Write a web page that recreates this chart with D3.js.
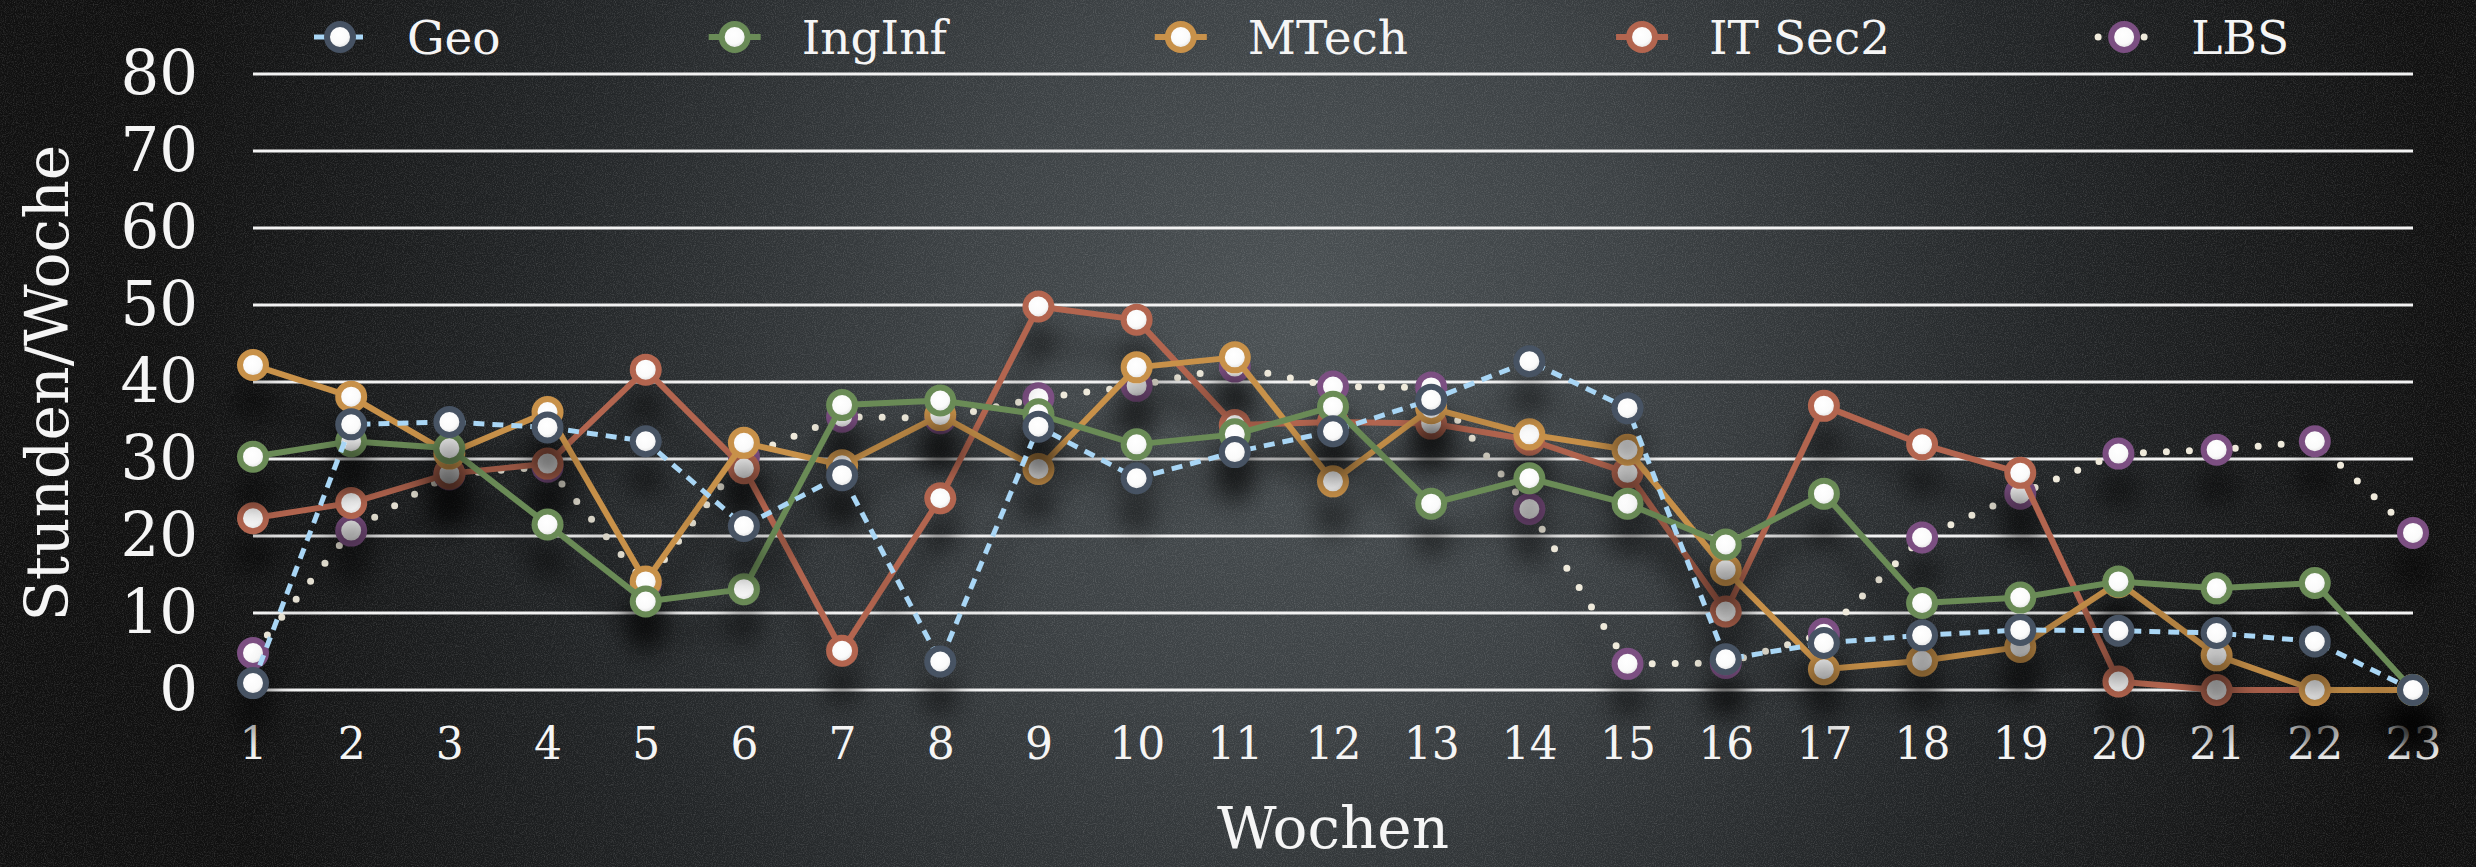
<!DOCTYPE html>
<html>
<head>
<meta charset="utf-8">
<script src="https://cdn.jsdelivr.net/npm/d3@7"></script>
<style>
html, body { margin: 0; padding: 0; background: #111; }
svg { display: block; }
text { font-family: "DejaVu Serif", serif; fill: #f5f5f5; }
</style>
</head>
<body>
<svg id="chart" width="2476" height="867"></svg>
<script>
// weeks on the x axis
var weeks = [1, 2, 3, 4, 5, 6, 7, 8, 9, 10, 11, 12, 13, 14, 15, 16, 17, 18, 19, 20, 21, 22, 23];
var yTicks = [0, 10, 20, 30, 40, 50, 60, 70, 80];

// hours per week
var geo    = [0.9, 34.5, 34.8, 34.1, 32.3, 21.3, 27.9, 3.7, 34.2, 27.5, 30.9, 33.6, 37.7, 42.7, 36.6, 4.0, 6.1, 7.1, 7.8, 7.7, 7.4, 6.3, 0];
var ingInf = [30.3, 32.3, 31.4, 21.5, 11.5, 13.1, 37.0, 37.6, 35.8, 31.9, 33.2, 36.8, 24.2, 27.5, 24.2, 18.9, 25.5, 11.3, 12.0, 14.1, 13.2, 13.9, 0];
var mTech  = [42.2, 38.1, 30.7, 36.1, 14.1, 32.1, 29.2, 35.7, 28.7, 41.9, 43.2, 27.1, 36.6, 33.2, 31.2, 15.6, 2.7, 3.8, 5.6, 14.0, 4.5, 0, 0];
var itSec2 = [22.3, 24.3, 28.1, 29.4, 41.6, 28.8, 5.1, 24.9, 49.8, 48.1, 34.4, 34.8, 34.6, 32.5, 28.2, 10.2, 36.9, 31.9, 28.2, 1.1, 0, 0, 0];
var lbs    = [4.8, 20.7, 28.0, 29.0, 13.8, 30.3, 35.5, 35.3, 37.9, 39.5, 42.0, 39.4, 39.3, 23.5, 3.4, 3.5, 7.3, 19.8, 25.5, 30.7, 31.2, 32.3, 20.4];

// legend order
var series = [
  { name: "Geo",     values: geo,    ring: "#465263", line: "#a9d6f5", dash: "11 8", width: 5, cap: "butt" },
  { name: "IngInf",  values: ingInf, ring: "#6a8b57", line: "#6a8b57", dash: null,   width: 6, cap: "butt" },
  { name: "MTech",   values: mTech,  ring: "#c8914a", line: "#c8914a", dash: null,   width: 6, cap: "butt" },
  { name: "IT Sec2", values: itSec2, ring: "#b3654f", line: "#b3654f", dash: null,   width: 6, cap: "butt" },
  { name: "LBS",     values: lbs,    ring: "#7b4f82", line: "#efeadb", dash: "0 23", width: 7, cap: "round" }
];
// drawn bottom to top
var drawOrder = ["LBS", "IT Sec2", "MTech", "IngInf", "Geo"];

var svg = d3.select("#chart");
var W = 2476, H = 867;

var x = d3.scaleLinear().domain([1, 23]).range([253, 2413]);
var y = d3.scaleLinear().domain([0, 80]).range([690, 74]);

var defs = svg.append("defs");

// background light
var bg = defs.append("radialGradient")
  .attr("id", "bg")
  .attr("gradientUnits", "userSpaceOnUse")
  .attr("cx", 1300).attr("cy", 330).attr("r", 1150)
  .attr("gradientTransform", "translate(1300,330) scale(1,1.1) translate(-1300,-330)");
bg.append("stop").attr("offset", "0").attr("stop-color", "#4b5154");
bg.append("stop").attr("offset", "0.3").attr("stop-color", "#3c4144");
bg.append("stop").attr("offset", "0.65").attr("stop-color", "#222527");
bg.append("stop").attr("offset", "1").attr("stop-color", "#101010");

// grainy texture
var noise = defs.append("filter").attr("id", "noise")
  .attr("x", 0).attr("y", 0).attr("width", "100%").attr("height", "100%");
noise.append("feTurbulence").attr("type", "fractalNoise")
  .attr("baseFrequency", "0.9").attr("numOctaves", 2).attr("seed", 4);
noise.append("feColorMatrix").attr("type", "matrix")
  .attr("values", "0 0 0 0 1  0 0 0 0 1  0 0 0 0 1  0 0 0 0.9 -0.38");

// drop shadow under each series
var shadow = defs.append("filter").attr("id", "shadow")
  .attr("x", "-5%").attr("y", "-30%").attr("width", "110%").attr("height", "180%");
shadow.append("feGaussianBlur").attr("in", "SourceAlpha").attr("stdDeviation", 13).attr("result", "blur");
shadow.append("feOffset").attr("in", "blur").attr("dx", 0).attr("dy", 36).attr("result", "off");
shadow.append("feComponentTransfer").attr("in", "off").attr("result", "soft")
  .append("feFuncA").attr("type", "linear").attr("slope", 0.6);
var merge = shadow.append("feMerge");
merge.append("feMergeNode").attr("in", "soft");
merge.append("feMergeNode").attr("in", "SourceGraphic");

// marker fill
var dot = defs.append("radialGradient").attr("id", "dotFill")
  .attr("cx", "45%").attr("cy", "40%").attr("r", "60%");
dot.append("stop").attr("offset", "0").attr("stop-color", "#ffffff");
dot.append("stop").attr("offset", "0.6").attr("stop-color", "#fafafa");
dot.append("stop").attr("offset", "1").attr("stop-color", "#d8d8d8");

// x labels fade at the right end
var xFade = defs.append("linearGradient").attr("id", "xFade")
  .attr("gradientUnits", "userSpaceOnUse")
  .attr("x1", 253).attr("x2", 2440).attr("y1", 0).attr("y2", 0);
xFade.append("stop").attr("offset", "0").attr("stop-color", "#f5f5f5");
xFade.append("stop").attr("offset", "0.78").attr("stop-color", "#f0f0f0");
xFade.append("stop").attr("offset", "1").attr("stop-color", "#8e8e8e");

svg.append("rect").attr("width", W).attr("height", H).attr("fill", "url(#bg)");
svg.append("rect").attr("width", W).attr("height", H).attr("filter", "url(#noise)").attr("opacity", 0.35);

// gridlines
svg.append("g").attr("class", "grid")
  .selectAll("line")
  .data(yTicks)
  .enter()
  .append("line")
  .attr("x1", x(1)).attr("x2", x(23))
  .attr("y1", function (d) { return y(d); })
  .attr("y2", function (d) { return y(d); })
  .attr("stroke", "#f2f2f2")
  .attr("stroke-width", 3);

// y axis labels
var yAxis = svg.append("g")
  .attr("transform", "translate(" + x(1) + ",0)")
  .call(d3.axisLeft(y).tickValues(yTicks).tickSize(0).tickPadding(55));
yAxis.select(".domain").remove();
yAxis.selectAll("text")
  .style("font-family", "'DejaVu Serif', serif")
  .style("font-size", "61px")
  .attr("fill", "#f7f7f7");

// x axis labels
var xAxis = svg.append("g")
  .attr("transform", "translate(0," + y(0) + ")")
  .call(d3.axisBottom(x).tickValues(weeks).tickFormat(d3.format("d")).tickSize(0).tickPadding(38));
xAxis.select(".domain").remove();
xAxis.selectAll("text")
  .style("font-family", "'DejaVu Serif', serif")
  .style("font-size", "44px")
  .attr("fill", "url(#xFade)");

// axis titles
svg.append("text")
  .attr("transform", "translate(47,383) rotate(-90)")
  .attr("text-anchor", "middle")
  .attr("dominant-baseline", "central")
  .style("font-size", "60px")
  .text("Stunden/Woche");

svg.append("text")
  .attr("x", (x(1) + x(23)) / 2)
  .attr("y", 828)
  .attr("text-anchor", "middle")
  .attr("dominant-baseline", "central")
  .style("font-size", "58px")
  .text("Wochen");

// series
var line = d3.line()
  .x(function (d, i) { return x(weeks[i]); })
  .y(function (d) { return y(d); });

drawOrder.forEach(function (name) {
  var s = series.filter(function (d) { return d.name === name; })[0];
  var g = svg.append("g").attr("class", "series").attr("filter", "url(#shadow)");

  g.append("path")
    .datum(s.values)
    .attr("d", line)
    .attr("fill", "none")
    .attr("stroke", s.line)
    .attr("stroke-width", s.width)
    .attr("stroke-linecap", s.cap)
    .attr("stroke-linejoin", "round")
    .attr("stroke-dasharray", s.dash);

  g.selectAll("circle")
    .data(s.values)
    .enter()
    .append("circle")
    .attr("cx", function (d, i) { return x(weeks[i]); })
    .attr("cy", function (d) { return y(d); })
    .attr("r", 13)
    .attr("fill", "url(#dotFill)")
    .attr("stroke", s.ring)
    .attr("stroke-width", 6);
});

// legend
var legend = svg.append("g").attr("class", "legend");
var lx = 340;
series.forEach(function (s) {
  var item = legend.append("g").attr("transform", "translate(" + lx + ",37)");
  item.append("line")
    .attr("x1", -26).attr("x2", 26)
    .attr("stroke", s.line)
    .attr("stroke-width", s.width)
    .attr("stroke-linecap", s.cap)
    .attr("stroke-dasharray", s.dash);
  item.append("circle")
    .attr("r", 13)
    .attr("fill", "url(#dotFill)")
    .attr("stroke", s.ring)
    .attr("stroke-width", 6);
  var t = item.append("text")
    .attr("x", 67)
    .attr("dominant-baseline", "central")
    .style("font-size", "47px")
    .text(s.name);
  lx += 67 + t.node().getComputedTextLength() + 234;
});
</script>
</body>
</html>
